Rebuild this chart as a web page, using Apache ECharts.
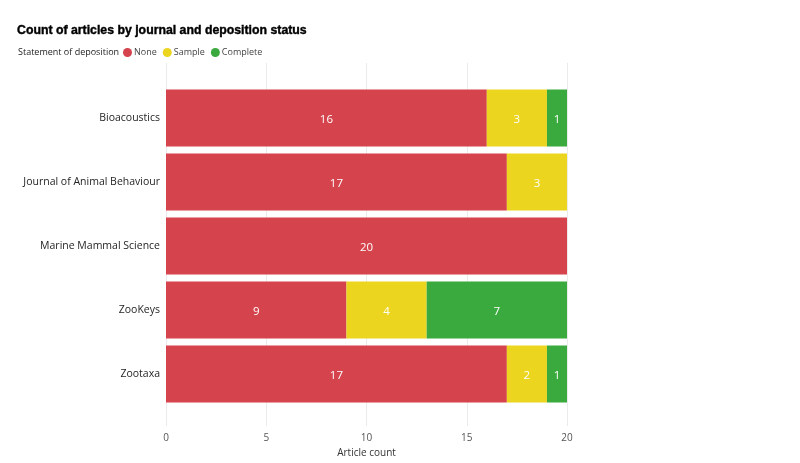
<!DOCTYPE html>
<html><head><meta charset="utf-8">
<script src="https://cdn.jsdelivr.net/npm/echarts@6/dist/echarts.min.js"></script>
<style>html,body{margin:0;padding:0;background:#fff}#c{width:800px;height:463px}</style>
</head><body><div id="c"></div>
<script>
const journals = ["Bioacoustics","Journal of Animal Behaviour","Marine Mammal Science","ZooKeys","Zootaxa"];
const noneVals = [16,17,20,9,17];
const sampleVals = [3,3,0,4,2];
const completeVals = [1,0,0,7,1];
const xTicks = [0,5,10,15,20];

const font = "'Open Sans', 'Noto Sans', sans-serif";
const chart = echarts.init(document.getElementById('c'));
function lbl(v){ return v.value ? String(v.value) : ''; }
function mk(name, data, color){
  return {name, type:'bar', stack:'s', data, xAxisIndex:0, yAxisIndex:0, barCategoryGap:'11%',
    itemStyle:{color},
    label:{show:true, position:'inside', color:'#fff', fontSize:11.5, fontFamily:font, offset:[0,2], formatter:lbl}};
}
chart.setOption({
  animation:false,
  title:[{text:'Count of articles by journal and deposition status', left:12, top:20,
    textStyle:{fontFamily:"'Liberation Sans', Arial, sans-serif", fontWeight:'bold', fontSize:12.3, color:'#000', textBorderColor:'#000', textBorderWidth:0.4}},
    {text:'Statement of deposition', left:13, top:43, textStyle:{fontFamily:font, fontWeight:'normal', fontSize:9, color:'#222'}}],
  legend:{left:118, top:43, icon:'circle', itemWidth:9, itemHeight:9, itemGap:6,
    textStyle:{fontFamily:font, fontSize:9, color:'#444', padding:[0,0,0,-3]},
    data:['None','Sample','Complete']},
  grid:[{left:166, right:233, top:86, height:320},
        {left:166, right:233, top:63, bottom:36}],
  xAxis:[{gridIndex:0, type:'value', min:0, max:20, interval:5, axisLabel:{show:false}, splitLine:{show:false}, axisLine:{show:false}, axisTick:{show:false}},
         {gridIndex:1, type:'value', min:0, max:20, interval:5,
          axisLabel:{fontFamily:font, fontSize:10, color:'#555', margin:7, formatter:v=>xTicks.includes(v)?String(v):''},
          splitLine:{show:true, lineStyle:{color:'#ebebeb'}}, axisLine:{show:false}, axisTick:{show:false},
          name:'Article count', nameLocation:'middle', nameGap:18, nameTextStyle:{fontFamily:font, fontSize:10, color:'#333'}}],
  yAxis:[{gridIndex:0, type:'category', data:journals, inverse:true, axisLine:{show:false}, axisTick:{show:false},
          axisLabel:{fontFamily:font, fontSize:10.5, color:'#252525', margin:6, padding:[3,0,0,0]}},
         {gridIndex:1, type:'category', data:journals, show:false}],
  series:[mk('None', noneVals, '#D5434C'), mk('Sample', sampleVals, '#ECD51F'), mk('Complete', completeVals, '#3BAA3E')]
});
</script></body></html>
